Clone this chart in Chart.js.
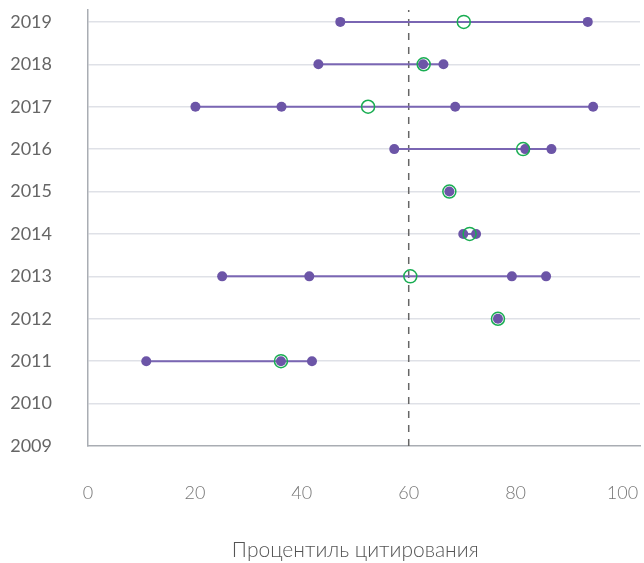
<!DOCTYPE html>
<html>
<head>
<meta charset="utf-8">
<script src="https://cdn.jsdelivr.net/npm/chart.js@4/dist/chart.umd.min.js"></script>
<style>
  html, body { margin: 0; padding: 0; background: #fff; overflow: hidden; }
  canvas { display: block; }
</style>
</head>
<body>
<canvas id="c" width="644" height="563"></canvas>
<script>
// Year axis (2009 at the bottom, 2019 at the top)
const yearTicks = [2009, 2010, 2011, 2012, 2013, 2014, 2015, 2016, 2017, 2018, 2019];
const xTicks = [0, 20, 40, 60, 80, 100];

// Years that have papers
const years = [2019, 2018, 2017, 2016, 2015, 2014, 2013, 2012, 2011];

// Citation percentiles of individual papers per year
const percentiles = [
  [47.2, 93.5],
  [43.1, 62.7, 66.5],
  [20.1, 36.2, 68.7, 94.5],
  [57.3, 81.8, 86.7],
  [67.6],
  [70.2, 72.6],
  [25.1, 41.4, 79.3, 85.7],
  [76.7],
  [10.9, 36.1, 41.9]
];

// Median percentile per year
const medians = [70.3, 62.8, 52.4, 81.4, 67.6, 71.4, 60.3, 76.7, 36.1];

// Reference threshold
const threshold = 60;

const PURPLE = '#6c55a7';
const LINE_PURPLE = '#7a66b3';
const GREEN = '#19ad52';

const rangeSets = years.map((yr, i) => ({
  type: 'scatter',
  showLine: true,
  data: [
    { x: Math.min(...percentiles[i]), y: yr },
    { x: Math.max(...percentiles[i]), y: yr }
  ],
  borderColor: LINE_PURPLE,
  borderWidth: 2,
  pointRadius: 0,
  order: 3
}));

const dotData = [];
years.forEach((yr, i) => percentiles[i].forEach(v => dotData.push({ x: v, y: yr })));

const medianData = years.map((yr, i) => ({ x: medians[i], y: yr }));

const Y_MAX = 2019.28;

const axisTitle = {
  id: 'axisTitle',
  afterDraw(chart) {
    const ctx = chart.ctx;
    const xs = chart.scales.x;
    ctx.save();
    ctx.font = '300 21px Lato';
    ctx.fillStyle = '#555';
    ctx.textAlign = 'center';
    ctx.textBaseline = 'middle';
    ctx.fillText('Процентиль цитирования', xs.getPixelForValue(50), 550);
    ctx.restore();
  }
};

new Chart(document.getElementById('c'), {
  type: 'scatter',
  data: {
    datasets: [
      ...rangeSets,
      {
        type: 'scatter',
        showLine: true,
        data: [{ x: threshold, y: 2009 }, { x: threshold, y: Y_MAX }],
        borderColor: '#666',
        borderWidth: 1.5,
        borderDash: [7, 7],
        pointRadius: 0,
        order: 4
      },
      {
        data: dotData,
        backgroundColor: PURPLE,
        borderColor: PURPLE,
        borderWidth: 0,
        pointRadius: 5,
        order: 2
      },
      {
        data: medianData,
        backgroundColor: 'rgba(0,0,0,0)',
        borderColor: GREEN,
        borderWidth: 1.5,
        pointRadius: 6.5,
        order: 1
      }
    ]
  },
  options: {
    responsive: false,
    animation: false,
    layout: { autoPadding: false, padding: { top: 10, right: 4, left: 0, bottom: 0 } },
    plugins: {
      legend: { display: false },
      tooltip: { enabled: false }
    },
    scales: {
      x: {
        type: 'linear',
        min: 0,
        max: 103.27,
        afterBuildTicks: s => { s.ticks = xTicks.map(v => ({ value: v })); },
        afterFit: s => { s.height = 117; s.paddingLeft = 0; s.paddingRight = 0; },
        grid: {
          display: true,
          drawOnChartArea: false,
          drawTicks: true,
          tickLength: 36,
          color: 'rgba(0,0,0,0)',
          tickColor: 'rgba(0,0,0,0)'
        },
        border: { display: true, color: '#a9adb3', width: 1.5 },
        ticks: {
          padding: 0,
          maxRotation: 0,
          color: '#777',
          font: { family: 'Lato', size: 18, weight: '300' },
          callback: v => String(v)
        }
      },
      y: {
        type: 'linear',
        min: 2009,
        max: Y_MAX,
        afterBuildTicks: s => { s.ticks = yearTicks.map(v => ({ value: v })); },
        afterFit: s => { s.width = 88; s.paddingTop = 0; s.paddingBottom = 0; },
        grid: {
          drawTicks: true,
          tickLength: 36,
          tickColor: 'rgba(0,0,0,0)',
          color: ctx => (ctx.tick && ctx.tick.value === 2009) ? 'rgba(0,0,0,0)' : '#dfe1e7',
          lineWidth: 1.5
        },
        border: { display: true, color: '#a9adb3', width: 1.5 },
        ticks: {
          padding: 0,
          color: '#666',
          font: { family: 'Lato', size: 18, lineHeight: 1 },
          callback: v => String(v)
        }
      }
    }
  },
  plugins: [axisTitle]
});
</script>
</body>
</html>
